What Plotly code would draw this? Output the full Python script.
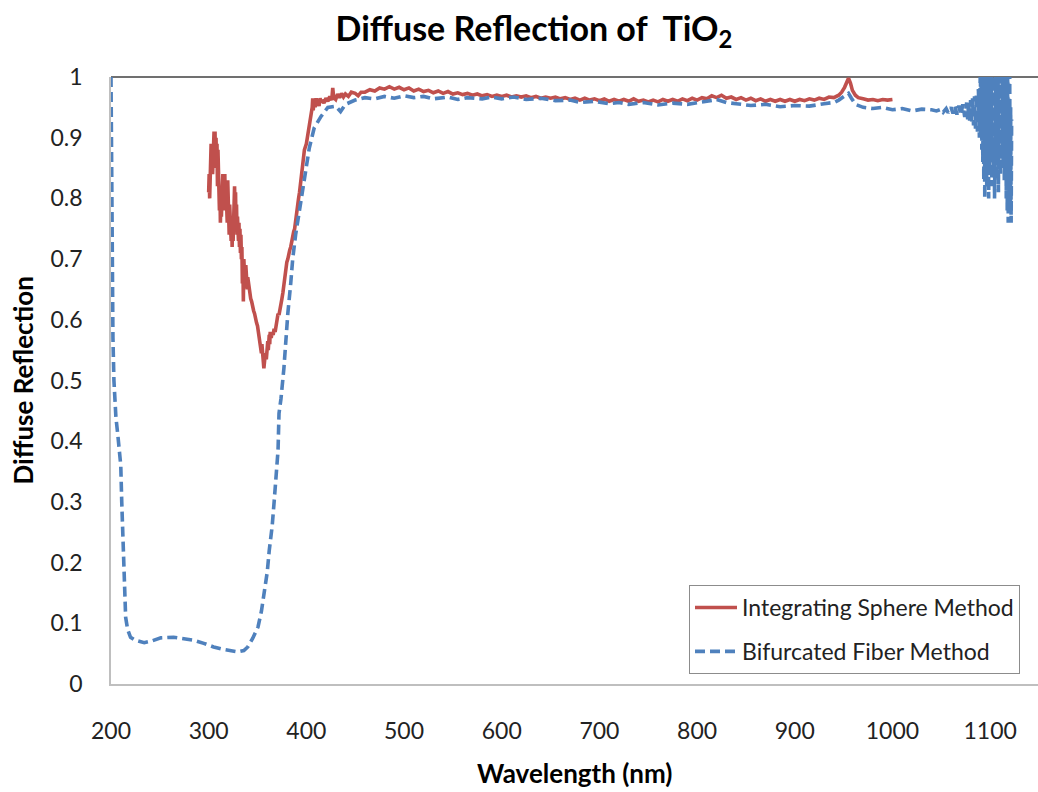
import plotly.graph_objects as go

# ---------------- data ----------------
sphere_wl = [
    300, 300.5, 301, 301.5, 302, 302.5, 303, 303.5, 304, 304.5, 305, 305.5, 306, 306.5, 307, 307.5,
    308, 308.5, 309, 309.5, 310, 310.5, 311, 311.5, 312, 312.5, 313, 313.5, 314, 314.5, 315, 315.5,
    316, 316.5, 317, 317.5, 318, 318.5, 319, 319.5, 320, 320.5, 321, 321.5, 322, 322.5, 323, 323.5,
    324, 324.5, 325, 325.5, 326, 326.5, 327, 327.5, 328, 328.5, 329, 329.5, 330, 330.5, 331, 331.5,
    332, 332.5, 333, 333.5, 334, 334.5, 335, 335.5, 336, 336.5, 337, 337.5, 338, 338.5, 339, 339.5,
    340, 341, 342, 343, 344, 345, 346, 347, 348, 349, 350, 351, 352, 353, 354, 354.5, 355, 356,
    356.5, 357, 357.5, 358, 359, 359.5, 360, 360.5, 361, 362, 362.5, 363, 364, 365, 366, 367, 368,
    369, 370, 371, 372, 373, 374, 375, 376, 377, 378, 379, 380, 381, 382, 383, 384, 385, 386, 387,
    388, 389, 390, 391, 392, 393, 394, 395, 396, 397, 398, 399, 400, 401, 402, 403, 404, 405, 406,
    406.5, 407, 408, 409, 410, 411, 412, 413, 414, 415, 416, 418, 420, 422, 424, 426, 427, 428, 430,
    432, 434, 436, 438, 440, 443, 446, 450, 453, 456,
    460, 465, 470, 475, 480, 485, 490, 495, 500, 505, 510, 515, 520, 525, 530, 535, 540, 545, 550,
    555, 560, 565, 570, 575, 580, 585, 590, 595, 600, 605, 610, 615, 620, 625, 630, 635, 640, 645,
    650, 655, 660, 665, 670, 675, 680, 685, 690, 695, 700, 705, 710, 715, 720, 725, 730, 735, 740,
    745, 750, 755, 760, 765, 770, 775, 780, 785, 790, 795, 800, 805, 810, 815, 820, 825, 830, 835,
    840, 845, 850, 855, 860, 865, 870, 875, 880, 885, 890, 895, 900, 905, 910, 915, 920, 925, 930,
    935, 940, 945, 948, 951, 953, 955, 957, 959, 962, 965, 970, 975, 980, 985, 990, 995, 1000,
]
sphere_r = [
    0.81, 0.84, 0.80, 0.87, 0.83, 0.89, 0.85, 0.88, 0.84, 0.90, 0.86, 0.91, 0.87, 0.91, 0.85, 0.90,
    0.86, 0.89, 0.82, 0.88, 0.80, 0.84, 0.78, 0.82, 0.76, 0.80, 0.77, 0.83, 0.79, 0.84, 0.80, 0.83,
    0.78, 0.84, 0.79, 0.83, 0.77, 0.82, 0.76, 0.83, 0.77, 0.80, 0.74, 0.79, 0.75, 0.78, 0.73, 0.77,
    0.72, 0.76, 0.73, 0.79, 0.75, 0.82, 0.77, 0.81, 0.75, 0.79, 0.74, 0.77, 0.75, 0.73, 0.76, 0.72,
    0.75, 0.71, 0.74, 0.70, 0.72, 0.66, 0.70, 0.63, 0.70, 0.68, 0.69, 0.66, 0.69, 0.67, 0.68, 0.65,
    0.67, 0.655, 0.64, 0.635, 0.63, 0.62, 0.615, 0.61, 0.60, 0.595, 0.59, 0.58, 0.565, 0.555, 0.545, 0.56, 0.54, 0.53,
    0.52, 0.54, 0.525, 0.545, 0.535, 0.555, 0.54, 0.565, 0.55, 0.575, 0.56, 0.58, 0.57, 0.58, 0.575, 0.585, 0.58,
    0.59, 0.60, 0.61, 0.608, 0.615, 0.625, 0.635, 0.645, 0.66, 0.675, 0.685, 0.695, 0.70, 0.71, 0.715, 0.72, 0.73, 0.74, 0.745,
    0.75, 0.765, 0.78, 0.79, 0.80, 0.81, 0.825, 0.84, 0.85, 0.87, 0.88, 0.885, 0.89, 0.90, 0.91, 0.915, 0.93, 0.935, 0.95,
    0.965, 0.945, 0.962, 0.95, 0.965, 0.955, 0.96, 0.952, 0.965, 0.958, 0.962, 0.957, 0.965, 0.96, 0.968, 0.962, 0.982, 0.966, 0.963,
    0.972, 0.966, 0.973, 0.967, 0.972, 0.968, 0.975, 0.973, 0.969, 0.975,
    0.975, 0.979, 0.977, 0.982, 0.980, 0.984, 0.980, 0.983, 0.979, 0.982, 0.977, 0.980, 0.976, 0.978, 0.974, 0.977, 0.973, 0.976, 0.972,
    0.974, 0.971, 0.973, 0.970, 0.972, 0.969, 0.971, 0.968, 0.970, 0.968, 0.970, 0.967, 0.969, 0.967, 0.969, 0.966, 0.968, 0.965, 0.967,
    0.965, 0.967, 0.964, 0.966, 0.963, 0.965, 0.962, 0.965, 0.962, 0.964, 0.961, 0.964, 0.960, 0.963, 0.960, 0.963, 0.960, 0.964, 0.960,
    0.962, 0.959, 0.962, 0.959, 0.963, 0.960, 0.963, 0.960, 0.964, 0.961, 0.965, 0.962, 0.966, 0.964, 0.969, 0.966, 0.970, 0.965, 0.967,
    0.963, 0.966, 0.962, 0.965, 0.961, 0.964, 0.960, 0.963, 0.960, 0.963, 0.960, 0.963, 0.960, 0.963, 0.961, 0.964, 0.962, 0.965, 0.963,
    0.967, 0.966, 0.970, 0.975, 0.983, 0.992, 0.998, 0.990, 0.978, 0.970, 0.966, 0.964, 0.962, 0.963, 0.961, 0.963, 0.962, 0.963,
]

fiber_wl = [
    200, 201, 202, 203, 204, 205, 207, 209, 210, 211, 212, 213, 214, 215, 217, 220, 225, 234, 242,
    251, 264, 275, 285, 295, 305, 315, 325, 330, 336, 340, 345, 350.5, 354, 357, 360, 362, 365, 367,
    369, 371, 372, 374, 377, 379, 381, 384, 386, 389, 392, 395, 397.5, 400, 403, 408, 415, 422, 430,
    435, 440, 450, 460, 470, 480, 490, 500, 510, 520, 530, 545, 555, 565, 580, 590, 600, 612, 625,
    640, 655, 670, 681, 695, 710, 720, 730, 745, 760, 775, 790, 800, 810, 820, 830, 840, 855, 870,
    885, 900, 915, 930, 940, 945, 950, 955, 958, 962, 970, 980, 990, 1000, 1010, 1020, 1030,
    1040, 1045, 1050, 1052, 1055, 1057, 1060, 1062,
    1064, 1066, 1068, 1070, 1072, 1074, 1076, 1077, 1078, 1079, 1080, 1081, 1082, 1083, 1084, 1085,
    1086, 1087, 1088, 1089, 1090, 1090.5, 1091, 1091.5, 1092, 1092.5, 1093, 1093.5, 1094, 1094.5,
    1095, 1095.5, 1096, 1096.5, 1097, 1097.5, 1098, 1098.5, 1099, 1099.5, 1100, 1100.5, 1101, 1101.5,
    1102, 1102.5, 1103, 1103.5, 1104, 1104.5, 1105, 1105.5, 1106, 1106.5, 1107, 1107.5, 1108, 1108.5,
    1109, 1109.5, 1110, 1110.5, 1111, 1111.5, 1112, 1112.5, 1113, 1113.5, 1114, 1114.5, 1115, 1115.5,
    1116, 1116.5, 1117, 1117.5, 1118, 1118.5, 1119, 1119.5, 1120, 1120.5, 1121, 1121.5, 1122,
]
fiber_r = [
    1.0, 0.75, 0.57, 0.50, 0.47, 0.44, 0.41, 0.38, 0.36, 0.30, 0.24, 0.19, 0.14, 0.11, 0.09, 0.077, 0.072, 0.068, 0.071,
    0.076, 0.077, 0.075, 0.072, 0.067, 0.061, 0.057, 0.054, 0.053, 0.055, 0.061, 0.075, 0.094, 0.12, 0.15, 0.185, 0.22, 0.26, 0.30,
    0.34, 0.385, 0.446, 0.47, 0.52, 0.57, 0.61, 0.66, 0.70, 0.74, 0.77, 0.80, 0.827, 0.855, 0.883, 0.916, 0.935, 0.95, 0.952,
    0.943, 0.955, 0.962, 0.966, 0.964, 0.968, 0.965, 0.969, 0.966, 0.968, 0.964, 0.967, 0.963, 0.966, 0.964, 0.967, 0.964, 0.967, 0.963,
    0.965, 0.961, 0.962, 0.958, 0.960, 0.956, 0.958, 0.955, 0.958, 0.954, 0.957, 0.955, 0.957, 0.960, 0.963, 0.958, 0.956, 0.953, 0.955,
    0.951, 0.953, 0.952, 0.956, 0.958, 0.962, 0.967, 0.973, 0.965, 0.955, 0.950, 0.948, 0.950, 0.946, 0.948, 0.944, 0.947,
    0.946, 0.944, 0.947, 0.942, 0.948, 0.941, 0.950, 0.940,
    0.952, 0.938, 0.953, 0.937, 0.955, 0.934, 0.958, 0.930, 0.960, 0.928, 0.962, 0.925, 0.965, 0.920, 0.968, 0.915,
    0.972, 0.910, 0.980, 0.900, 1.02, 0.90, 1.03, 0.88, 1.04, 0.86, 1.05, 0.83, 1.05, 0.80,
    1.04, 0.85, 1.06, 0.82, 1.05, 0.86, 1.04, 0.80, 1.05, 0.84, 1.06, 0.87, 1.04, 0.82,
    1.05, 0.88, 1.03, 0.85, 1.05, 0.80, 1.04, 0.86, 1.06, 0.83, 1.05, 0.88, 1.04, 0.81,
    1.05, 0.86, 1.03, 0.84, 1.05, 0.89, 1.04, 0.87, 1.06, 0.85, 1.05, 0.83, 1.04, 0.88,
    1.06, 0.80, 1.05, 0.78, 1.04, 0.76, 1.03, 0.82, 1.02, 0.79, 0.95, 0.76, 0.93,
]

x_ticks = [200, 300, 400, 500, 600, 700, 800, 900, 1000, 1100]
y_ticks = [0, 0.1, 0.2, 0.3, 0.4, 0.5, 0.6, 0.7, 0.8, 0.9, 1]
y_tick_text = ["0", "0.1", "0.2", "0.3", "0.4", "0.5", "0.6", "0.7", "0.8", "0.9", "1"]

FONT = "Lato"
W, H = 1038, 792
L, R, T, B = 111, 0, 77, 108

fig = go.Figure()
fig.add_trace(go.Scatter(
    x=sphere_wl, y=sphere_r, mode="lines", name="Integrating Sphere Method",
    legendgroup="a",
    line=dict(color="#C0504D", width=3.6),
))
fig.add_trace(go.Scatter(
    x=fiber_wl, y=fiber_r, mode="lines", name="Bifurcated Fiber Method",
    legendgroup="b",
    line=dict(color="#4F81BD", width=3.6, dash="10px,5px"),
))

fig.update_layout(
    width=W, height=H,
    margin=dict(l=L, r=R, t=T, b=B, autoexpand=False),
    paper_bgcolor="white", plot_bgcolor="white",
    font=dict(family=FONT, color="black"),
    showlegend=True,
    legend=dict(
        x=(689 - L) / (W - L - R), y=(H - B - 585) / (H - B - T),
        xanchor="left", yanchor="top",
        bordercolor="#8C8C8C", borderwidth=1, bgcolor="white",
        font=dict(family=FONT, size=23, color="#222"),
        tracegroupgap=11, itemwidth=42,
    ),
    title=dict(
        text="<b>Diffuse Reflection of  TiO<sub>2</sub></b>",
        xref="container", x=534 / W, xanchor="center",
        yref="container", y=1 - 29 / H, yanchor="middle",
        font=dict(family=FONT, size=34, color="black"),
    ),
    xaxis=dict(
        range=[200, 1149], tickvals=x_ticks, ticks="", showgrid=False, zeroline=False,
        showline=True, linecolor="#BFBFBF", linewidth=1.5,
        tickfont=dict(family=FONT, size=23, color="#222"),
        ticklabelstandoff=26,
    ),
    yaxis=dict(
        range=[0, 1], tickvals=y_ticks, ticktext=y_tick_text, ticks="", showgrid=False,
        zeroline=False, showline=True, linecolor="#BFBFBF", linewidth=1.5,
        tickfont=dict(family=FONT, size=23, color="#222"),
        ticklabelstandoff=22,
    ),
    shapes=[dict(type="line", xref="paper", yref="paper", x0=0, x1=1, y0=1, y1=1,
                 line=dict(color="#404040", width=1.5), layer="below")],
    annotations=[
        dict(text="<b>Wavelength (nm)</b>", xref="paper", x=0.5, xanchor="center",
             yref="paper", y=-(773 - (H - B)) / (H - B - T), yanchor="middle",
             showarrow=False, font=dict(family=FONT, size=26, color="black")),
        dict(text="<b>Diffuse Reflection</b>", xref="paper", x=-(L - 22) / (W - L - R),
             xanchor="center", yref="paper", y=0.5, yanchor="middle", textangle=-90,
             showarrow=False, font=dict(family=FONT, size=26, color="black")),
    ],
)

fig.write_html("out.html")
